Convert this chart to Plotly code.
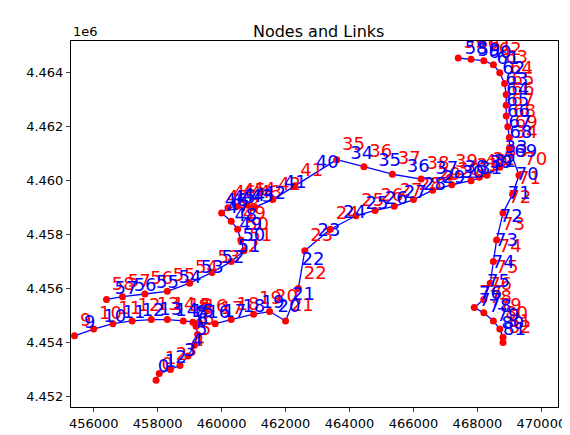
import plotly.graph_objects as go

node_x = [457950,458050,458400,458700,458950,459150,459250,459200,459100,
          455400,456000,456600,457200,457800,458300,458800,459300,459800,460300,461000,461500,462000,
          462400,462600,463400,464200,464800,465400,466000,466600,467200,467800,468300,468700,469000,
          463600,464450,465340,466240,467130,468060,
          462290,461600,461000,460800,460500,460200,460000,460300,460500,460600,460700,460300,459700,459000,458300,457600,456900,456400,
          467400,467800,468200,468500,468700,468850,468900,468900,468900,468950,469000,
          469300,469100,468800,468600,468500,468400,468200,467900,468200,468500,468700,468800,468800]
node_y = [4452600,4452850,4453000,4453150,4453500,4453900,4454300,4454600,4454750,
          4454250,4454500,4454700,4454800,4454850,4454850,4454800,4454750,4454700,4454850,4455050,4455150,4454800,
          4456000,4457400,4458200,4458700,4458900,4459050,4459300,4459650,4459850,4460000,4460200,4460500,4461200,
          4460780,4460520,4460240,4460060,4460130,4460130,
          4459810,4459300,4459000,4459100,4459050,4459000,4458800,4458500,4458200,4457800,4457400,4457000,4456600,4456200,4455900,4455800,4455700,4455600,
          4464550,4464500,4464450,4464300,4464000,4463600,4463200,4462800,4462400,4462000,4461600,
          4460200,4459500,4458800,4457800,4457000,4456200,4455600,4455300,4455100,4454800,4454500,4454200,4454000]
chains = [
    [0,1,2,3,4,5,6,7,8,16],
    [9,10,11,12,13,14,15,16,17,18,19,20,21],
    [21,22,23,24,25,26,27,28,29,30,31,32,33,34],
    [35,36,37,38,39,40,33],
    [35,41,42,43,44,45,46,47,48,49,50,51,52,53,54,55,56,57,58],
    [59,60,61,62,63,64,65,66,67,68,69,34],
    [34,70,71,72,73,74,75,76,77,78,79,80,81,82],
]
node_labels = [str(i) for i in range(len(node_x))]

fig = go.Figure()
lx, ly, mx, my = [], [], [], []
for ch in chains:
    for a, b in zip(ch[:-1], ch[1:]):
        lx += [node_x[a], node_x[b], None]
        ly += [node_y[a], node_y[b], None]
        mx.append((node_x[a]+node_x[b])/2)
        my.append((node_y[a]+node_y[b])/2)
link_labels = [str(i) for i in range(len(mx))]

fig.add_trace(go.Scatter(x=lx, y=ly, mode="lines", line=dict(color="blue", width=1.3), hoverinfo="skip"))
fig.add_trace(go.Scatter(x=node_x, y=node_y, mode="markers+text", marker=dict(color="red", size=7),
                         text=node_labels, textposition="top right", textfont=dict(color="red", size=18)))
fig.add_trace(go.Scatter(x=mx, y=my, mode="text", text=link_labels, textposition="top right",
                         textfont=dict(color="blue", size=18)))

ax = dict(showline=True, linecolor="black", mirror=True, ticks="outside", showgrid=False, zeroline=False,
          tickfont=dict(size=13, color="black"), ticklen=4)
fig.update_layout(
    width=570, height=435, margin=dict(l=63, r=13, t=33, b=23),
    plot_bgcolor="white", paper_bgcolor="white", showlegend=False,
    font=dict(family="DejaVu Sans"),
    title=dict(text="Nodes and Links", x=0.545, y=0.96, xanchor="center", font=dict(size=16, color="black")),
    xaxis=dict(ax, range=[455290, 470520], tickvals=[456000,458000,460000,462000,464000,466000,468000,470000],
               ticktext=["456000","458000","460000","462000","464000","466000","468000","470000"]),
    yaxis=dict(ax, range=[4451610, 4465180], tickvals=[4452000,4454000,4456000,4458000,4460000,4462000,4464000],
               ticktext=["4.452","4.454","4.456","4.458","4.460","4.462","4.464"]),
    annotations=[dict(text="1e6", x=0, y=1, xref="paper", yref="paper", xanchor="left", yanchor="bottom",
                      showarrow=False, font=dict(size=13, color="black"))],
)
fig.write_html("out.html")
